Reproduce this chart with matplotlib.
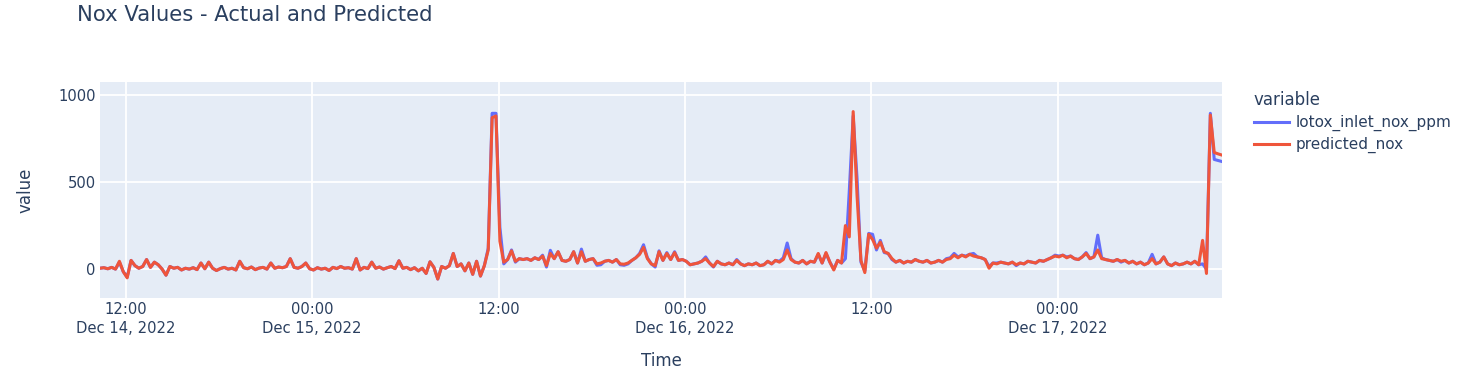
import matplotlib
matplotlib.use("Agg")
import matplotlib.pyplot as plt
import matplotlib.dates as mdates
import pandas as pd

start_time = "2022-12-14 10:20"
step = "15min"

actual_nox = [
    5, 8, 2, 10, 0, 40, -15, -45, 50, 20, 5, 15, 55, 10, 40, 25, 0, -35, 15, 5,
    10, -5, 5, 0, 8, -3, 35, 2, 40, 5, -8, 3, 10, 0, 5, -5, 45, 8, 2, 12,
    -3, 6, 10, 0, 35, 5, 12, 8, 15, 60, 10, 5, 15, 35, 2, -5, 8, 0, 5, -8,
    10, 3, 15, 5, 8, 0, 60, -5, 10, 3, 40, 5, 12, 0, 8, 15, 3, 48, 5, 10,
    -3, 8, -10, 5, -25, 42, 10, -57, 15, 5, 20, 90, 15, 30, -10, 35, -30, 45, -40, 20,
    120, 895, 895, 240, 30, 55, 110, 40, 60, 55, 60, 50, 65, 55, 80, 12, 108, 60, 100, 50,
    45, 55, 100, 35, 115, 45, 55, 60, 22, 25, 45, 50, 40, 55, 25, 22, 30, 50, 65, 90,
    140, 65, 30, 12, 105, 50, 95, 55, 100, 50, 55, 45, 25, 30, 35, 45, 70, 35, 12, 45,
    30, 25, 35, 25, 55, 30, 20, 30, 25, 35, 20, 25, 45, 30, 50, 45, 65, 150, 60, 40,
    35, 50, 30, 45, 40, 85, 35, 90, 40, 0, 50, 35, 60, 450, 880, 520, 40, -10, 205, 200,
    110, 165, 95, 90, 55, 40, 50, 35, 45, 40, 55, 45, 40, 50, 35, 40, 50, 40, 60, 65,
    90, 70, 80, 75, 85, 90, 70, 65, 55, 15, 35, 35, 40, 35, 30, 40, 20, 35, 30, 45,
    40, 35, 50, 45, 55, 65, 80, 75, 80, 70, 75, 60, 55, 70, 95, 60, 70, 195, 65, 55,
    50, 45, 55, 40, 50, 35, 45, 30, 40, 25, 35, 85, 30, 40, 70, 30, 20, 35, 25, 30,
    40, 30, 45, 25, 30, 0, 895, 630, 624, 618,
]

predicted_nox = [
    5, 8, 2, 10, 0, 45, -15, -50, 50, 20, 5, 15, 55, 10, 40, 25, 0, -35, 15, 5,
    10, -5, 5, 0, 8, -3, 35, 2, 40, 5, -8, 3, 10, 0, 5, -5, 45, 8, 2, 12,
    -3, 6, 10, 0, 35, 5, 12, 8, 15, 60, 10, 5, 15, 35, 2, -5, 8, 0, 5, -8,
    10, 3, 15, 5, 8, 0, 60, -5, 10, 3, 40, 5, 12, 0, 8, 15, 3, 48, 5, 10,
    -3, 8, -10, 5, -25, 42, 10, -57, 15, 5, 20, 90, 15, 30, -10, 35, -30, 45, -40, 20,
    110, 870, 880, 160, 40, 55, 105, 45, 60, 55, 60, 50, 65, 55, 75, 20, 90, 60, 100, 50,
    45, 55, 100, 35, 100, 45, 55, 60, 30, 35, 45, 50, 40, 55, 30, 28, 35, 50, 65, 85,
    125, 60, 30, 20, 100, 50, 90, 55, 95, 50, 55, 45, 25, 30, 35, 45, 60, 35, 15, 45,
    30, 25, 35, 25, 50, 30, 20, 30, 25, 35, 20, 25, 45, 30, 50, 40, 55, 110, 55, 40,
    35, 50, 30, 45, 40, 90, 35, 95, 40, -5, 50, 35, 250, 185, 905, 420, 50, -20, 200, 170,
    120, 155, 100, 90, 60, 40, 50, 35, 45, 40, 55, 45, 40, 50, 35, 40, 50, 40, 55, 60,
    80, 65, 80, 70, 85, 75, 70, 65, 55, 5, 35, 30, 40, 35, 30, 40, 25, 35, 30, 45,
    40, 35, 50, 45, 55, 65, 75, 70, 80, 65, 75, 60, 55, 70, 90, 60, 70, 110, 60, 55,
    50, 45, 55, 45, 50, 35, 45, 30, 40, 25, 35, 60, 30, 40, 70, 30, 20, 35, 25, 30,
    40, 30, 45, 25, 165, -25, 885, 670, 662, 655,
]

series_names = ["lotox_inlet_nox_ppm", "predicted_nox"]
series_colors = ["#636efa", "#EF553B"]
tick_times = ["2022-12-14 12:00", "2022-12-15 00:00", "2022-12-15 12:00",
              "2022-12-16 00:00", "2022-12-16 12:00", "2022-12-17 00:00"]
tick_labels = ["12:00\nDec 14, 2022", "00:00\nDec 15, 2022", "12:00",
               "00:00\nDec 16, 2022", "12:00", "00:00\nDec 17, 2022"]
y_ticks = [0, 500, 1000]

plt.rcParams["font.family"] = ["DejaVu Sans"]

times = pd.date_range(start_time, periods=len(actual_nox), freq=step)

W, H = 1470, 380
fig = plt.figure(figsize=(W / 100, H / 100), dpi=100)
ax = fig.add_axes([100 / W, 1 - 298 / H, (1222 - 100) / W, (298 - 82) / H])
ax.set_facecolor("#E5ECF6")
for s in ax.spines.values():
    s.set_visible(False)

txt = "#2a3f5f"
l1, = ax.plot(times, actual_nox, color=series_colors[0], lw=2.2, label=series_names[0], zorder=3)
l2, = ax.plot(times, predicted_nox, color=series_colors[1], lw=2.2, label=series_names[1], zorder=4)

ax.set_xlim(times[0], times[-1])
ax.set_ylim(-166, 1075)
ax.set_yticks(y_ticks)
ax.set_yticklabels([str(v) for v in y_ticks])
ax.set_xticks([pd.Timestamp(t) for t in tick_times])
ax.set_xticklabels(tick_labels, linespacing=1.35)
ax.grid(True, color="white", lw=1.3, zorder=0)
ax.set_axisbelow(True)
ax.tick_params(length=0, labelsize=10.6, colors=txt, pad=3)
ax.tick_params(axis="y", pad=3)
for lab in ax.get_xticklabels():
    lab.set_va("top")

ax.set_xlabel("Time", fontsize=12, color=txt, labelpad=11)
ax.set_ylabel("value", fontsize=12, color=txt, labelpad=17)

fig.text(77 / W, 1 - 15 / H, "Nox Values - Actual and Predicted", fontsize=15.2,
         color=txt, va="center", ha="left")

leg = ax.legend(handles=[l1, l2], title="variable", loc="upper left",
                bbox_to_anchor=(1240 / W, 1 - 77 / H), bbox_transform=fig.transFigure,
                frameon=False, fontsize=11, title_fontsize=12, handlelength=2.3,
                handletextpad=0.45, labelspacing=0.4, alignment="left")
for t in leg.get_texts():
    t.set_color(txt)
leg.get_title().set_color(txt)

fig.savefig("out.png", dpi=100)
